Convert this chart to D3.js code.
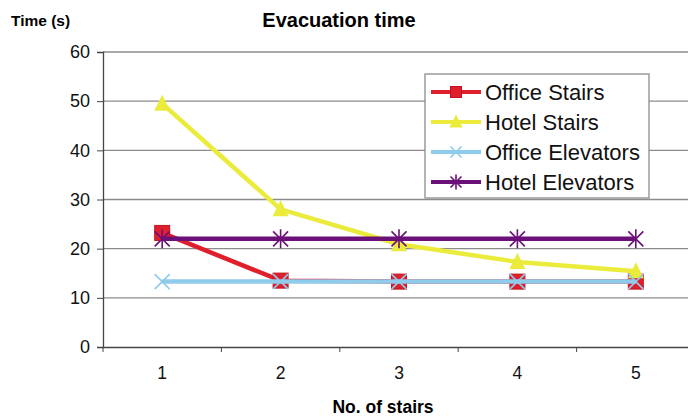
<!DOCTYPE html>
<html>
<head>
<meta charset="utf-8">
<script src="https://cdn.jsdelivr.net/npm/d3@7"></script>
<style>
  body { margin: 0; background: #fff; }
  svg { font-family: Arial, "Liberation Sans", sans-serif; }
</style>
</head>
<body>
<svg id="chart" width="688" height="417"></svg>
<script>
// data
const stairs = [1, 2, 3, 4, 5];
const officeStairs = [23.2, 13.5, 13.3, 13.3, 13.3];
const hotelStairs = [49.5, 28.0, 20.9, 17.3, 15.4];
const officeElevators = [13.3, 13.3, 13.3, 13.3, 13.3];
const hotelElevators = [22.0, 22.0, 22.0, 22.0, 22.0];
const yTicks = [0, 10, 20, 30, 40, 50, 60];

const series = [
    {name: "Office Stairs", values: officeStairs, color: "#e01f2d", marker: "square"},
    {name: "Hotel Stairs", values: hotelStairs, color: "#ebeb3c", marker: "triangle"},
    {name: "Office Elevators", values: officeElevators, color: "#8fcbea", marker: "x"},
    {name: "Hotel Elevators", values: hotelElevators, color: "#6b1078", marker: "star"}
];

const svg = d3.select("#chart");

// X scale (bands, the last one runs off the right edge)
const x = d3.scaleBand()
    .domain(stairs)
    .range([103, 695]);

// Y scale
const y = d3.scaleLinear()
    .domain([0, 60])
    .range([347, 52]);

// Gridlines
svg.append("g")
    .selectAll("line")
    .data(yTicks.filter(d => d > 0))
    .enter()
    .append("line")
    .attr("x1", 103)
    .attr("x2", 695)
    .attr("y1", d => y(d))
    .attr("y2", d => y(d))
    .attr("stroke", "#8c8c8c")
    .attr("stroke-width", 1.3);

// Y axis
const yAxis = svg.append("g")
    .attr("transform", "translate(103,0)")
    .call(d3.axisLeft(y).tickValues(yTicks).tickSize(6).tickPadding(7));
yAxis.select(".domain").attr("stroke", "#444").attr("stroke-width", 1.3);
yAxis.selectAll(".tick line").attr("stroke", "#444");
yAxis.selectAll("text").attr("font-size", "18px").attr("fill", "#111");

// X axis
const xAxis = svg.append("g")
    .attr("transform", "translate(0,347)")
    .call(d3.axisBottom(x).tickSize(0).tickPadding(20));
xAxis.select(".domain").attr("stroke", "#444").attr("stroke-width", 1.3);
xAxis.selectAll("text").attr("font-size", "17.5px").attr("fill", "#111");
// tick marks on band boundaries
xAxis.selectAll(".bound")
    .data(stairs)
    .enter()
    .append("line")
    .attr("x1", d => x(d))
    .attr("x2", d => x(d))
    .attr("y1", 0)
    .attr("y2", 5)
    .attr("stroke", "#444");

const cx = d => x(d) + x.bandwidth() / 2;

// marker drawing
function drawMarker(g, type, color, size) {
    const h = size / 2;
    if (type === "square") {
        g.append("rect").attr("x", -h).attr("y", -h).attr("width", size).attr("height", size)
            .attr("fill", color).attr("stroke", "#c0151f").attr("stroke-width", 1);
    } else if (type === "triangle") {
        g.append("path").attr("d", `M0,${-h - 2}L${h + 1},${h}L${-h - 1},${h}Z`).attr("fill", color);
    } else if (type === "x") {
        g.append("path").attr("d", `M${-h},${-h}L${h},${h}M${-h},${h}L${h},${-h}`)
            .attr("stroke", color).attr("stroke-width", 1.6).attr("fill", "none");
    } else {
        g.append("path").attr("d", `M${-h},${-h}L${h},${h}M${-h},${h}L${h},${-h}M0,${-h - 2}L0,${h + 2}`)
            .attr("stroke", color).attr("stroke-width", 1.6).attr("fill", "none");
    }
}

const line = d3.line().x((d, i) => cx(stairs[i])).y(d => y(d));

series.forEach(s => {
    svg.append("path")
        .datum(s.values)
        .attr("d", line)
        .attr("fill", "none")
        .attr("stroke", s.color)
        .attr("stroke-width", 4.5);
    s.values.forEach((v, i) => {
        const g = svg.append("g").attr("transform", `translate(${cx(stairs[i])},${y(v)})`);
        drawMarker(g, s.marker, s.color, s.marker === "triangle" ? 14 : 15);
    });
});

// Legend
const legend = svg.append("g").attr("transform", "translate(425,74)");
legend.append("rect")
    .attr("width", 224)
    .attr("height", 124)
    .attr("fill", "#fff")
    .attr("stroke", "#8c8c8c")
    .attr("stroke-width", 1.3);
series.forEach((s, i) => {
    const row = legend.append("g").attr("transform", `translate(0,${18 + i * 30})`);
    row.append("line").attr("x1", 6).attr("x2", 56).attr("y1", 0).attr("y2", 0)
        .attr("stroke", s.color).attr("stroke-width", 4);
    const m = row.append("g").attr("transform", "translate(31,0)");
    drawMarker(m, s.marker, s.color, 11);
    row.append("text")
        .attr("x", 60)
        .attr("y", 7.5)
        .attr("font-size", "22px")
        .attr("fill", "#111")
        .text(s.name);
});

// Chart title
svg.append("text")
    .attr("x", 339)
    .attr("y", 27)
    .attr("text-anchor", "middle")
    .attr("font-size", "20px")
    .style("font-weight", "700")
    .text("Evacuation time");

// Y axis label
svg.append("text")
    .attr("x", 11)
    .attr("y", 26)
    .attr("font-size", "15.5px")
    .style("font-weight", "700")
    .text("Time (s)");

// X axis label
svg.append("text")
    .attr("x", 383)
    .attr("y", 413)
    .attr("text-anchor", "middle")
    .attr("font-size", "17.5px")
    .style("font-weight", "700")
    .text("No. of stairs");
</script>
</body>
</html>
